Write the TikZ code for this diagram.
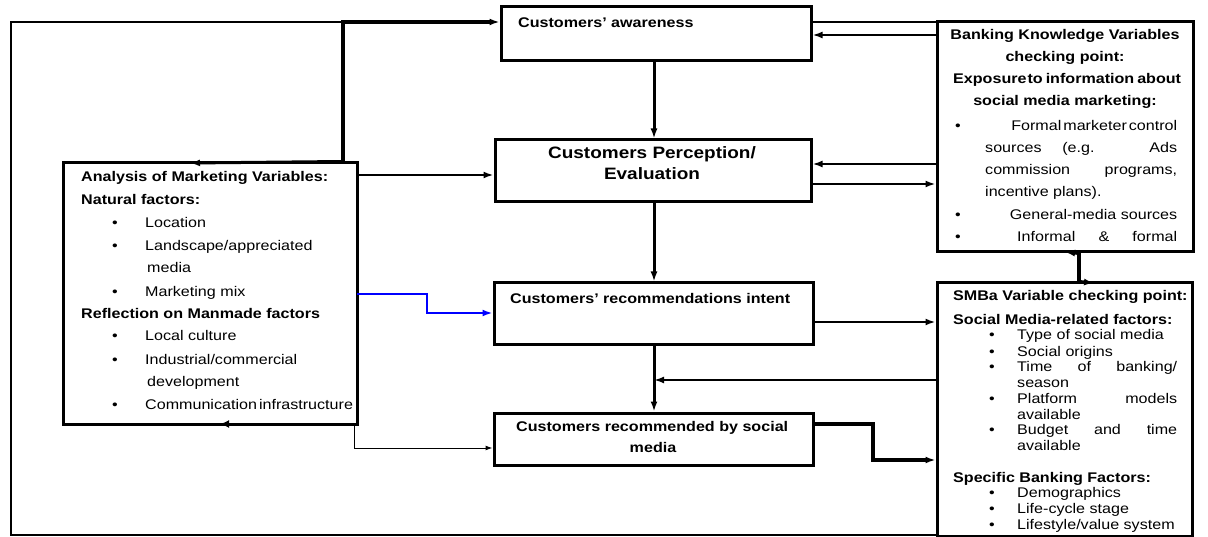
\documentclass[tikz,border=0pt]{standalone}
\usepackage{fontspec}
\setmainfont{Liberation Sans}[FakeStretch=1.15]
\usetikzlibrary{arrows.meta,calc}
\begin{document}
\begin{tikzpicture}[x=1pt,y=-1pt,
  box/.style={draw=black,line width=3pt,inner sep=0pt,fill=none},
  ln1/.style={line width=1pt},
  ln2/.style={line width=2pt},
  ln3/.style={line width=3pt},
  ln4/.style={line width=4pt},
  arr/.style={-{Latex[length=10pt,width=7pt]}},
  arrs/.style={-{Latex[length=7pt,width=5pt]}},
  arrb/.style={-{Latex[length=9pt,width=8pt]}},
  txt/.style={inner sep=0pt,anchor=base west,font=\fontsize{14}{16}\selectfont},
  ctxt/.style={inner sep=0pt,anchor=base,font=\fontsize{14}{16}\selectfont},
  big/.style={inner sep=0pt,anchor=base,font=\fontsize{16.5}{19}\selectfont\bfseries}]
\useasboundingbox (0,0) rectangle (1208,537);
\fill[white] (0,0) rectangle (1208,537);

% boxes
\node[box,minimum width=310pt,minimum height=54pt] (aw) at (656,34) {};
\node[box,minimum width=316pt,minimum height=62pt] (per) at (653,171) {};
\node[box,minimum width=319pt,minimum height=62pt] (intent) at (653.5,314) {};
\node[box,minimum width=319pt,minimum height=52pt] (recsoc) at (653.5,439) {};
\node[box,minimum width=294pt,minimum height=261pt] (lbox) at (210,293.5) {};
\node[box,minimum width=256pt,minimum height=230pt] (bank) at (1065,137) {};
\node[box,minimum width=255pt,minimum height=253pt] (smba) at (1064.5,409.5) {};

% coordinates
\coordinate (fTL) at (11,22);
\coordinate (fBL) at (11,535);
\coordinate (jTop) at (343,22);
\coordinate (aTop) at (190,163);
\coordinate (lbE1) at (357,175);
\coordinate (lbE2) at (357,294);
\coordinate (bk) at (427,313);
\coordinate (lbS) at (354,424);
\coordinate (aBot) at (220,424);
\coordinate (tb) at (354,448);
\coordinate (vx) at (654,0);
\coordinate (s1) at (937,380);
\coordinate (i1) at (813,322);
\coordinate (r1) at (813,424);
\coordinate (r2) at (873,460);
\coordinate (a1) at (811,22);
\coordinate (b1) at (937,35);
\coordinate (b2) at (937,164);
\coordinate (p2) at (811,184);
\coordinate (kx) at (1079,0);
\coordinate (kb) at (1065,252);
\coordinate (ks) at (1094,283);

% connectors
\draw[ln2] (fBL -| smba.west) -- (fBL) -- (fTL) -- (jTop);
\draw[ln4,arr] (jTop |- lbox.north) -- (jTop) -- (jTop -| aw.west);
\draw[ln3,arr] (jTop |- lbox.north) -- (aTop);
\draw[ln2,arr] (lbE1) -- (lbE1 -| per.west);
\draw[ln2,blue,arr] (lbE2) -- (lbE2 -| bk) -- (bk) -- (bk -| intent.west);
\draw[ln1,arrs] (lbS) -- (tb) -- (tb -| recsoc.west);
\draw[ln3,arrb] (lbS) -- (aBot);
\draw[ln3,arr] (vx |- aw.south) -- (vx |- per.north);
\draw[ln3,arr] (vx |- per.south) -- (vx |- intent.north);
\draw[ln3,arr] (vx |- intent.south) -- (vx |- recsoc.north);
\draw[ln2,arr] (s1) -- (s1 -| vx);
\draw[ln2,arr] (i1) -- (i1 -| smba.west);
\draw[ln4,arr] (r1) -- (r1 -| r2) -- (r2) -- (r2 -| smba.west);
\draw[ln2] (a1) -- (a1 -| bank.west);
\draw[ln2,arr] (b1) -- (b1 -| aw.east);
\draw[ln2,arr] (b2) -- (b2 -| per.east);
\draw[ln2,arr] (p2) -- (p2 -| bank.west);
\draw[ln4] (kx |- bank.south) -- (kx |- smba.north);
\draw[ln3,arr] (kx |- bank.south) -- (kb);
\draw[ln3,arr] (kx |- smba.north) -- (ks);

% centre texts
\node[txt,font=\fontsize{14}{16}\selectfont\bfseries] (tAw) at (518,28) {Customers' awareness};
\node[big] (tPer1) at (652,159) {Customers Perception/};
\node[big] (tPer2) at (652,180) {Evaluation};
\node[txt,font=\fontsize{14}{16}\selectfont\bfseries] (tInt) at (510,304) {Customers' recommendations intent};
\node[txt,font=\fontsize{14}{16}\selectfont\bfseries] (tRs1) at (516,431) {Customers recommended by social};
\node[ctxt,font=\fontsize{14}{16}\selectfont\bfseries] (tRs2) at (653,452) {media};

% left box texts
\node[txt,font=\fontsize{14}{16}\selectfont\bfseries] (L1) at (81,181.5) {Analysis of Marketing Variables:};
\node[txt,font=\fontsize{14}{16}\selectfont\bfseries] (L2) at (81,204.5) {Natural factors:};
\node[txt] (L3) at (112,227.5) {\makebox[33pt][l]{•}Location};
\node[txt] (L4) at (112,250.5) {\makebox[33pt][l]{•}Landscape/appreciated};
\node[txt] (L5) at (147,272.5) {media};
\node[txt] (L6) at (112,296.5) {\makebox[33pt][l]{•}Marketing mix};
\node[txt,font=\fontsize{14}{16}\selectfont\bfseries] (L7) at (81,318.5) {Reflection on Manmade factors};
\node[txt] (L8) at (112,340.5) {\makebox[33pt][l]{•}Local culture};
\node[txt] (L9) at (112,364.5) {\makebox[33pt][l]{•}Industrial/commercial};
\node[txt] (L10) at (147,386.5) {development};
\node[txt] (L11) at (112,409.5) {\makebox[33pt][l]{•}Communication\hspace{2pt}infrastructure};

% banking box texts
\node[ctxt,font=\fontsize{14}{16}\selectfont\bfseries] (K1) at (1065,40) {Banking Knowledge Variables};
\node[ctxt,font=\fontsize{14}{16}\selectfont\bfseries] (K2) at (1065,62) {checking point:};
\node[txt,font=\fontsize{14}{16}\selectfont\bfseries] (K3) at (953,84) {\makebox[224pt][s]{Exposure\hspace{1pt}to information about}};
\node[ctxt,font=\fontsize{14}{16}\selectfont\bfseries] (K4) at (1065,106) {social media marketing:};
\node[txt] (K5) at (955,131) {\makebox[222pt]{•\hfill Formal\hspace{2pt}marketer\hspace{2pt}control}};
\node[txt] (K6) at (985,153) {\makebox[192pt][s]{sources (e.g. Ads}};
\node[txt] (K7) at (985,175) {\makebox[192pt][s]{commission programs,}};
\node[txt] (K8) at (985,197) {incentive plans).};
\node[txt] (K9) at (955,220) {\makebox[222pt]{•\hfill General-media sources}};
\node[txt] (K10) at (955,242) {\makebox[62pt][l]{•}\makebox[160pt][s]{Informal \& formal}};

% SMBa box texts
\node[txt,font=\fontsize{14}{16}\selectfont\bfseries] (S1) at (953,301) {SMBa Variable checking point:};
\node[txt,font=\fontsize{14}{16}\selectfont\bfseries] (S2) at (953,325) {Social Media-related factors:};
\node[txt] (S3) at (989,340) {\makebox[28pt][l]{•}Type of social media};
\node[txt] (S4) at (989,356) {\makebox[28pt][l]{•}Social origins};
\node[txt] (S5) at (989,372) {\makebox[28pt][l]{•}\makebox[160pt][s]{Time of banking/}};
\node[txt] (S6) at (1017,388) {season};
\node[txt] (S7) at (989,403) {\makebox[28pt][l]{•}\makebox[160pt][s]{Platform models}};
\node[txt] (S8) at (1017,419) {available};
\node[txt] (S9) at (989,434) {\makebox[28pt][l]{•}\makebox[160pt][s]{Budget and time}};
\node[txt] (S10) at (1017,450) {available};
\node[txt,font=\fontsize{14}{16}\selectfont\bfseries] (S11) at (953,482) {Specific Banking Factors:};
\node[txt] (S12) at (989,497) {\makebox[28pt][l]{•}Demographics};
\node[txt] (S13) at (989,513) {\makebox[28pt][l]{•}Life-cycle stage};
\node[txt] (S14) at (989,529) {\makebox[28pt][l]{•}Lifestyle/value system};
\end{tikzpicture}
\end{document}
